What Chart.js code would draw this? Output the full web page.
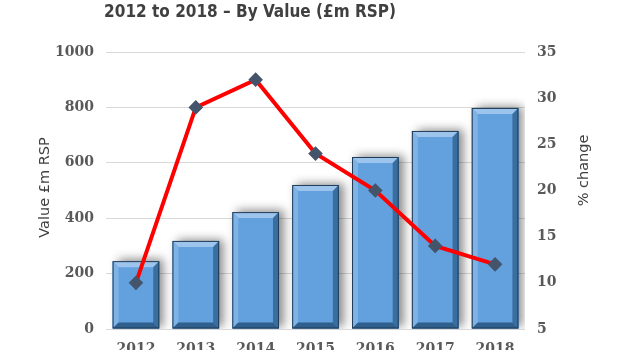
<!DOCTYPE html>
<html>
<head>
<meta charset="utf-8">
<script src="https://cdn.jsdelivr.net/npm/chart.js@4/dist/chart.umd.min.js"></script>
<style>
  html, body { margin: 0; padding: 0; background: #fff; }
  #wrap { width: 620px; height: 350px; }
</style>
</head>
<body>
<div id="wrap"><canvas id="chart" width="620" height="350"></canvas></div>
<script>
// données
const annees = ["2012", "2013", "2014", "2015", "2016", "2017", "2018"];
const valeurs = [245, 318, 422, 520, 621, 715, 798];
const variation = [10, 29, 32, 24, 20, 14, 12];
const titre = "2012 to 2018 \u2013 By Value (\u00a3m RSP)";
const titreGauche = "Value \u00a3m RSP";
const titreDroite = "% change";

const gris = "#595959";

// titre et titres d'axes (tous deux écrits de bas en haut)
const textes = {
    id: "textes",
    afterDraw(chart) {
        const ctx = chart.ctx;
        const area = chart.chartArea;
        const milieu = (area.top + area.bottom) / 2;
        ctx.save();
        ctx.fillStyle = "#404040";
        ctx.textAlign = "center";
        ctx.textBaseline = "alphabetic";
        ctx.font = "bold 17px 'DejaVu Sans Condensed', 'DejaVu Sans'";
        ctx.fillText(titre, 250, 17);

        ctx.font = "14.5px 'DejaVu Sans'";
        ctx.textBaseline = "middle";
        ctx.save();
        ctx.translate(45, milieu - 3);
        ctx.rotate(-Math.PI / 2);
        ctx.fillText(titreGauche, 0, 0);
        ctx.restore();
        ctx.save();
        ctx.translate(584, milieu - 20);
        ctx.rotate(-Math.PI / 2);
        ctx.fillText(titreDroite, 0, 0);
        ctx.restore();
        ctx.restore();
    }
};

// ombre derrière les barres + biseaux
const ombreBarres = {
    id: "ombreBarres",
    beforeDatasetDraw(chart, args) {
        if (args.index !== 1) return;
        const ctx = chart.ctx;
        ctx.save();
        ctx.shadowColor = "rgba(0,0,0,0.45)";
        ctx.shadowBlur = 9;
        ctx.shadowOffsetX = 5;
        ctx.shadowOffsetY = -2;
    },
    afterDatasetDraw(chart, args) {
        if (args.index !== 1) return;
        const ctx = chart.ctx;
        ctx.restore();
        const meta = chart.getDatasetMeta(1);
        const b = 6;
        meta.data.forEach(bar => {
            const l = bar.x - bar.width / 2, r = bar.x + bar.width / 2;
            const t = bar.y, bas = bar.base;
            ctx.save();
            ctx.fillStyle = "#9cc4ec";
            ctx.beginPath();
            ctx.moveTo(l, t); ctx.lineTo(r, t); ctx.lineTo(r - b, t + b); ctx.lineTo(l + b, t + b);
            ctx.closePath(); ctx.fill();
            ctx.fillStyle = "#7fb2e5";
            ctx.beginPath();
            ctx.moveTo(l, t); ctx.lineTo(l + b, t + b); ctx.lineTo(l + b, bas - b); ctx.lineTo(l, bas);
            ctx.closePath(); ctx.fill();
            ctx.fillStyle = "#3a6e9e";
            ctx.beginPath();
            ctx.moveTo(r, t); ctx.lineTo(r - b, t + b); ctx.lineTo(r - b, bas - b); ctx.lineTo(r, bas);
            ctx.closePath(); ctx.fill();
            ctx.fillStyle = "#2f5f8c";
            ctx.beginPath();
            ctx.moveTo(l, bas); ctx.lineTo(l + b, bas - b); ctx.lineTo(r - b, bas - b); ctx.lineTo(r, bas);
            ctx.closePath(); ctx.fill();
            ctx.strokeStyle = "#1f3b57";
            ctx.lineWidth = 1;
            ctx.strokeRect(l + 0.5, t + 0.5, bar.width - 1, bas - t - 1);
            ctx.restore();
        });
    }
};

const policeTicks = { family: "'DejaVu Serif'", size: 14, weight: "bold" };

const config = {
    data: {
        labels: annees,
        datasets: [{
            type: "line",
            label: titreDroite,
            data: variation,
            yAxisID: "y2",
            borderColor: "#ff0000",
            borderWidth: 4,
            pointStyle: "rectRot",
            pointRadius: 4.5,
            pointBackgroundColor: "#44546a",
            pointBorderColor: "#44546a",
            tension: 0,
            order: 0
        }, {
            type: "bar",
            label: titreGauche,
            data: valeurs,
            yAxisID: "y",
            backgroundColor: "#62a0de",
            borderWidth: 0,
            barPercentage: 0.78,
            categoryPercentage: 1,
            order: 1
        }]
    },
    options: {
        responsive: false,
        animation: false,
        layout: { padding: { top: 52, bottom: 0, left: 0, right: 0 } },
        plugins: {
            legend: { display: false },
            tooltip: { enabled: false },
            title: { display: false }
        },
        scales: {
            x: {
                grid: { display: false },
                border: { display: false },
                ticks: { color: gris, padding: 4, font: policeTicks },
                afterFit(s) { s.height = 21; }
            },
            y: {
                position: "left",
                min: 0, max: 1000,
                ticks: { stepSize: 200, color: gris, padding: 12, font: policeTicks, callback: v => String(v) },
                grid: { color: "#d9d9d9", drawTicks: false },
                border: { display: false },
                afterFit(s) { s.width = 106; }
            },
            y2: {
                position: "right",
                min: 5, max: 35,
                ticks: { stepSize: 5, color: gris, padding: 12, font: policeTicks },
                grid: { display: false, drawTicks: false },
                border: { display: false },
                afterFit(s) { s.width = 95; }
            }
        }
    },
    plugins: [ombreBarres, textes]
};

new Chart(document.querySelector("#chart"), config);
</script>
</body>
</html>
